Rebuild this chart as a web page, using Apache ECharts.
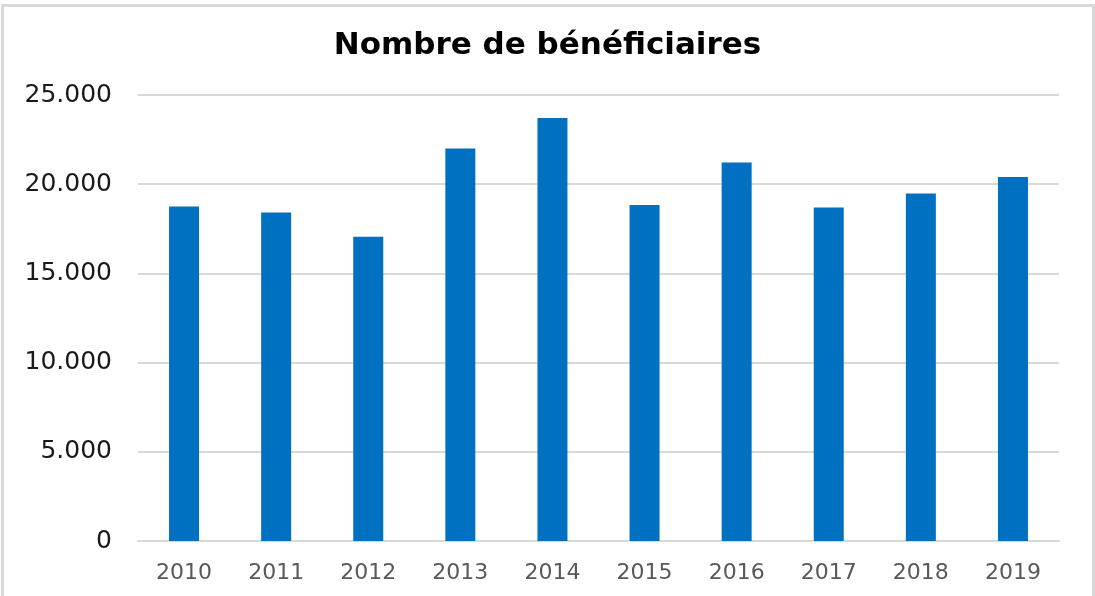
<!DOCTYPE html>
<html>
<head>
<meta charset="utf-8">
<title>Nombre de bénéficiaires</title>
<script src="https://cdn.jsdelivr.net/npm/echarts@6/dist/echarts.min.js"></script>
<style>
  html, body { margin: 0; padding: 0; background: #fff; }
  #frame {
    position: absolute;
    left: 1px;
    top: 4px;
    width: 1088px;
    height: 600px;
    border: 3px solid #d9d9d9;
  }
  #chart {
    position: absolute;
    left: 0;
    top: 0;
    width: 1095px;
    height: 596px;
  }
</style>
</head>
<body>
<div id="frame"></div>
<div id="chart"></div>
<script>
const years = ["2010", "2011", "2012", "2013", "2014", "2015", "2016", "2017", "2018", "2019"];
const beneficiaires = [18750, 18420, 17050, 22000, 23710, 18840, 21210, 18700, 19480, 20410];
const yTicks = [0, 5000, 10000, 15000, 20000, 25000];

const chart = echarts.init(document.getElementById("chart"));

chart.setOption({
  animation: false,
  title: {
    text: "Nombre de bénéficiaires",
    left: "center",
    top: 25,
    textStyle: {
      fontFamily: "DejaVu Sans",
      fontWeight: "bold",
      fontSize: 31,
      color: "#000"
    }
  },
  grid: {
    left: 138,
    right: 36,
    top: 95,
    bottom: 55
  },
  xAxis: {
    type: "category",
    data: years,
    axisTick: { show: false },
    axisLine: {
      lineStyle: { color: "#d9d9d9", width: 2 }
    },
    axisLabel: {
      margin: 21,
      fontFamily: "DejaVu Sans",
      fontSize: 22,
      color: "#595959"
    }
  },
  yAxis: {
    type: "value",
    min: yTicks[0],
    max: yTicks[yTicks.length - 1],
    interval: yTicks[1] - yTicks[0],
    axisLine: { show: false },
    axisTick: { show: false },
    splitLine: {
      lineStyle: { color: "#d9d9d9", width: 2 }
    },
    axisLabel: {
      margin: 26,
      fontFamily: "DejaVu Sans",
      fontSize: 25,
      color: "#1a1a1a",
      formatter: function (v) {
        // séparateur de milliers : 25.000
        return v === 0 ? "0" : String(v).replace(/\B(?=(\d{3})+(?!\d))/g, ".");
      }
    }
  },
  series: [
    {
      name: "Bénéficiaires",
      type: "bar",
      data: beneficiaires,
      barWidth: 30,
      itemStyle: { color: "#0070c0" }
    }
  ]
});
</script>
</body>
</html>
